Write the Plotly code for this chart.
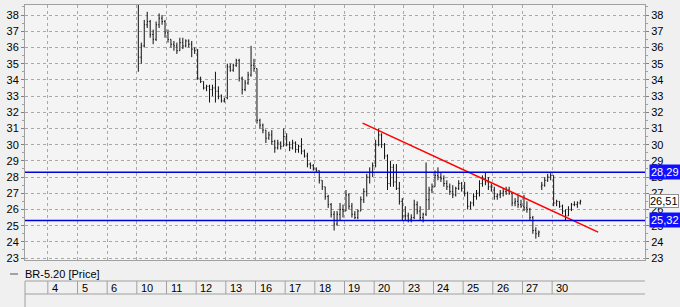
import plotly.graph_objects as go

# ---------------- data ----------------
days = [4, 5, 6, 10, 11, 12, 13, 16, 17, 18, 19, 20, 23, 24, 25, 26, 27, 30]
bars_per_day = [0, 0, 0, 10, 10, 10, 10, 10, 10, 10, 10, 10, 10, 10, 10, 10, 10, 10]

opens = [
    39.0, 35.4, 36.1, 37.4, 37.6, 36.8, 36.5, 37.4, 37.8, 37.6,   # 10
    36.9, 36.5, 36.2, 36.1, 35.8, 36.3, 36.1, 36.4, 36.2, 35.9,   # 11
    35.8, 34.1, 33.9, 33.5, 33.6, 33.4, 33.5, 33.3, 33.0, 32.7,   # 12
    32.9, 34.8, 34.6, 34.9, 35.2, 34.1, 33.4, 33.8, 34.3, 34.9,   # 13
    34.7, 31.5, 31.2, 30.9, 30.4, 30.6, 30.2, 29.8, 30.1, 29.9,   # 16
    30.5, 30.0, 29.8, 30.1, 29.7, 29.9, 29.6, 29.3, 28.8, 28.7,   # 17
    28.5, 28.4, 27.8, 27.4, 26.8, 26.3, 25.7, 25.1, 25.7, 26.0,   # 18
    25.9, 26.9, 26.2, 25.7, 25.5, 25.9, 26.6, 27.1, 28.0, 28.3,   # 19
    28.7, 30.0, 30.6, 30.0, 29.3, 27.6, 28.6, 27.7, 27.3, 26.5,   # 20
    25.6, 25.6, 25.4, 25.5, 26.3, 25.9, 25.5, 25.7, 26.6, 27.2,   # 23
    27.4, 28.1, 28.0, 27.9, 27.6, 27.4, 27.1, 26.9, 27.3, 27.6,   # 24
    27.3, 27.0, 26.2, 26.4, 26.8, 27.0, 27.6, 27.9, 27.7, 27.4,   # 25
    27.2, 26.8, 26.9, 27.0, 27.1, 27.2, 27.0, 26.4, 26.5, 26.3,   # 26
    26.2, 26.1, 26.0, 25.5, 24.7, 24.5, 27.4, 27.5, 27.8, 28.0,   # 27
    28.1, 26.4, 26.5, 26.2, 25.9, 25.6, 26.0, 26.3, 26.3, 26.4,   # 30
]
highs = [
    39.5, 36.3, 37.7, 38.2, 37.7, 37.1, 37.6, 38.1, 38.0, 37.7,
    37.1, 36.5, 36.4, 36.3, 36.6, 36.6, 36.5, 36.5, 36.4, 36.0,
    35.9, 34.2, 33.9, 33.7, 33.7, 33.7, 34.5, 33.6, 33.1, 32.9,
    35.0, 35.0, 35.0, 35.3, 35.3, 34.2, 34.0, 34.5, 36.1, 35.3,
    34.7, 31.6, 31.3, 30.9, 30.8, 30.9, 30.3, 30.3, 30.2, 31.0,
    30.7, 30.2, 30.3, 30.2, 30.0, 30.4, 29.7, 29.5, 28.9, 28.8,
    28.6, 28.4, 27.8, 27.4, 26.9, 26.4, 25.9, 25.9, 26.4, 26.3,
    27.2, 27.0, 26.4, 25.9, 26.0, 26.8, 27.3, 28.2, 28.6, 28.9,
    30.3, 31.0, 30.7, 30.1, 29.4, 29.0, 28.8, 28.8, 27.7, 26.7,
    26.2, 25.8, 25.7, 26.6, 26.5, 26.2, 25.8, 28.9, 27.4, 27.6,
    28.4, 28.6, 28.3, 28.1, 27.8, 27.6, 27.5, 27.4, 27.8, 27.7,
    27.7, 27.1, 26.5, 27.0, 27.2, 27.8, 28.1, 28.3, 28.0, 27.6,
    27.4, 27.0, 27.2, 27.3, 27.4, 27.4, 27.0, 26.7, 26.9, 26.6,
    26.9, 26.5, 26.1, 25.6, 24.9, 24.7, 27.7, 28.0, 28.2, 28.3,
    28.1, 26.6, 26.5, 26.3, 26.0, 26.2, 26.4, 26.5, 26.5, 26.6,
]
lows = [
    34.5, 35.0, 36.0, 37.2, 36.6, 36.2, 36.4, 37.2, 37.4, 36.6,
    36.3, 36.0, 35.8, 35.6, 35.8, 35.9, 36.0, 36.0, 35.4, 35.6,
    34.0, 33.8, 33.4, 33.3, 32.6, 33.0, 32.6, 32.8, 32.6, 32.6,
    32.8, 34.5, 34.5, 34.8, 33.9, 33.1, 33.3, 33.7, 34.2, 34.5,
    31.3, 31.0, 30.7, 30.1, 30.3, 30.0, 29.5, 29.7, 29.7, 29.9,
    29.9, 29.6, 29.7, 29.5, 29.5, 29.4, 29.2, 28.6, 28.5, 28.4,
    28.3, 27.6, 27.2, 26.6, 26.1, 25.5, 24.7, 25.0, 25.3, 25.5,
    25.9, 26.0, 25.5, 25.4, 25.4, 25.9, 26.4, 26.8, 27.6, 28.0,
    28.6, 29.9, 29.8, 29.1, 27.2, 27.4, 27.4, 27.2, 26.3, 25.3,
    25.3, 25.2, 25.2, 25.4, 25.7, 25.3, 25.2, 25.6, 26.0, 27.0,
    27.4, 27.8, 27.7, 27.4, 27.2, 26.9, 26.7, 26.8, 27.2, 27.1,
    26.8, 26.0, 26.0, 26.2, 26.6, 26.8, 27.4, 27.5, 27.2, 27.1,
    26.6, 26.6, 26.7, 26.8, 26.9, 26.9, 26.2, 26.2, 26.1, 26.1,
    25.9, 25.8, 25.3, 24.5, 24.2, 24.3, 27.2, 27.4, 27.7, 27.8,
    26.2, 26.2, 26.1, 25.7, 25.3, 25.6, 25.9, 26.2, 26.1, 26.3,
]
closes = [
    35.4, 36.1, 37.4, 37.6, 36.8, 36.5, 37.4, 37.8, 37.6, 36.9,
    36.5, 36.2, 36.1, 35.8, 36.3, 36.1, 36.4, 36.2, 35.9, 35.8,
    34.1, 33.9, 33.5, 33.6, 33.4, 33.5, 33.3, 33.0, 32.7, 32.8,
    34.8, 34.6, 34.9, 35.2, 34.1, 33.4, 33.8, 34.3, 34.9, 34.7,
    31.5, 31.2, 30.9, 30.4, 30.6, 30.2, 29.8, 30.1, 29.9, 30.5,
    30.0, 29.8, 30.1, 29.7, 29.9, 29.6, 29.3, 28.8, 28.7, 28.5,
    28.4, 27.8, 27.4, 26.8, 26.3, 25.7, 25.1, 25.7, 26.0, 25.9,
    26.9, 26.2, 25.7, 25.5, 25.9, 26.6, 27.1, 28.0, 28.3, 28.7,
    30.0, 30.6, 30.0, 29.3, 27.6, 28.6, 27.7, 27.3, 26.5, 25.6,
    25.6, 25.4, 25.5, 26.3, 25.9, 25.5, 25.7, 26.6, 27.2, 27.4,
    28.1, 28.0, 27.9, 27.6, 27.4, 27.1, 26.9, 27.3, 27.6, 27.3,
    27.0, 26.2, 26.4, 26.8, 27.0, 27.6, 27.9, 27.7, 27.4, 27.2,
    26.8, 26.9, 27.0, 27.1, 27.2, 27.0, 26.4, 26.5, 26.3, 26.2,
    26.1, 26.0, 25.5, 24.7, 24.5, 24.6, 27.5, 27.8, 28.0, 28.1,
    26.4, 26.5, 26.2, 25.9, 25.6, 26.0, 26.3, 26.3, 26.4, 26.51,
]

levels = [28.29, 25.32]
last_price = 26.51
# trend line: (day-slot position, price)
trend_x = [10.61, 18.55]
trend_y = [31.33, 24.60]

series_name = "BR-5.20 [Price]"
y_ticks = list(range(23, 39))

# ---------------- figure ----------------
x = []
for i, n in enumerate(bars_per_day):
    for j in range(n):
        x.append(i + (j + 0.5) / n)

XR = [-0.77, 20.13]
YR = [22.88, 38.62]
FONT = "Liberation Sans, Arial, sans-serif"
GRID = "#a8a8a8"
FRAME = "#a0a0a0"

fig = go.Figure()
fig.add_trace(go.Ohlc(
    x=x, open=opens, high=highs, low=lows, close=closes,
    increasing=dict(line=dict(color="#111111", width=1)),
    decreasing=dict(line=dict(color="#111111", width=1)),
    tickwidth=0.3, showlegend=False, name=series_name,
))
fig.add_trace(go.Scatter(
    x=trend_x, y=trend_y, mode="lines", yaxis="y2",
    line=dict(color="#ff0000", width=1.5), showlegend=False,
))

def px2paper_x(px):
    return (px - 25) / 620.0

def px2paper_y(py):
    return (260 - py) / 255.0

def dpaper(d):
    return (d - XR[0]) / (XR[1] - XR[0])

shapes = []
for v in levels:
    shapes.append(dict(type="line", xref="paper", yref="y", x0=0, x1=1, y0=v, y1=v,
                       line=dict(color="#0000dd", width=1.5), layer="above"))

# table below the plot
ty0, ty1, ty2 = px2paper_y(281), px2paper_y(294), px2paper_y(307)
for yy in (ty0, ty1):
    shapes.append(dict(type="line", xref="paper", yref="paper", x0=0, x1=1, y0=yy, y1=yy,
                       line=dict(color=FRAME, width=1)))
shapes.append(dict(type="line", xref="paper", yref="paper", x0=0, x1=0, y0=ty0, y1=ty2,
                   line=dict(color=FRAME, width=1)))
for i in range(len(days)):
    xp = dpaper(i)
    shapes.append(dict(type="line", xref="paper", yref="paper", x0=xp, x1=xp, y0=ty0, y1=ty1,
                       line=dict(color=FRAME, width=1)))
# legend dash
ly = px2paper_y(274)
shapes.append(dict(type="line", xref="paper", yref="paper", x0=px2paper_x(10), x1=px2paper_x(18),
                   y0=ly, y1=ly, line=dict(color="#555555", width=1)))

annotations = []
for i, d in enumerate(days):
    annotations.append(dict(xref="x", yref="paper", x=i, y=(ty0 + ty1) / 2, text=str(d),
                            xanchor="left", yanchor="middle", xshift=2, showarrow=False,
                            font=dict(family=FONT, size=11, color="#000")))
annotations.append(dict(xref="paper", yref="paper", x=px2paper_x(23), y=ly, text=series_name,
                        xanchor="left", yanchor="middle", showarrow=False,
                        font=dict(family=FONT, size=11, color="#000")))
for v in levels:
    annotations.append(dict(xref="paper", yref="y", x=1, y=v, xanchor="left", yanchor="middle",
                            xshift=4, text=f"{v:.2f}".replace(".", ","), showarrow=False,
                            bgcolor="#1010ff", borderpad=1,
                            font=dict(family=FONT, size=11, color="#ffffff")))
annotations.append(dict(xref="paper", yref="y", x=1, y=last_price, xanchor="left", yanchor="middle",
                        xshift=4, text=f"{last_price:.2f}".replace(".", ","), showarrow=False,
                        bgcolor="#ffffff", bordercolor="#909090", borderwidth=1, borderpad=0,
                        font=dict(family=FONT, size=11, color="#000")))

yaxis_common = dict(
    range=YR, tickvals=y_ticks, ticktext=[str(t) for t in y_ticks],
    ticks="outside", ticklen=3, tickcolor="#808080",
    tickfont=dict(family=FONT, size=11, color="#000"),
    showline=True, linecolor=FRAME, linewidth=1, zeroline=False,
    minor=dict(dtick=0.5, ticks="outside", ticklen=2, tickcolor="#a0a0a0", showgrid=False),
)

fig.update_layout(
    width=680, height=307,
    margin=dict(l=25, r=35, t=5, b=47),
    paper_bgcolor="#f0f0f0", plot_bgcolor="#f4f4f4",
    xaxis=dict(range=XR, tickvals=list(range(len(days))), showticklabels=False, ticks="",
               showgrid=True, gridcolor=GRID, griddash="dot", gridwidth=1,
               showline=True, linecolor=FRAME, mirror=True, zeroline=False,
               rangeslider=dict(visible=False)),
    yaxis=dict(**yaxis_common, side="left", showgrid=True, gridcolor=GRID, griddash="dot"),
    yaxis2=dict(**yaxis_common, side="right", overlaying="y", showgrid=False),
    shapes=shapes, annotations=annotations,
    showlegend=False,
)

fig.write_html("out.html")
